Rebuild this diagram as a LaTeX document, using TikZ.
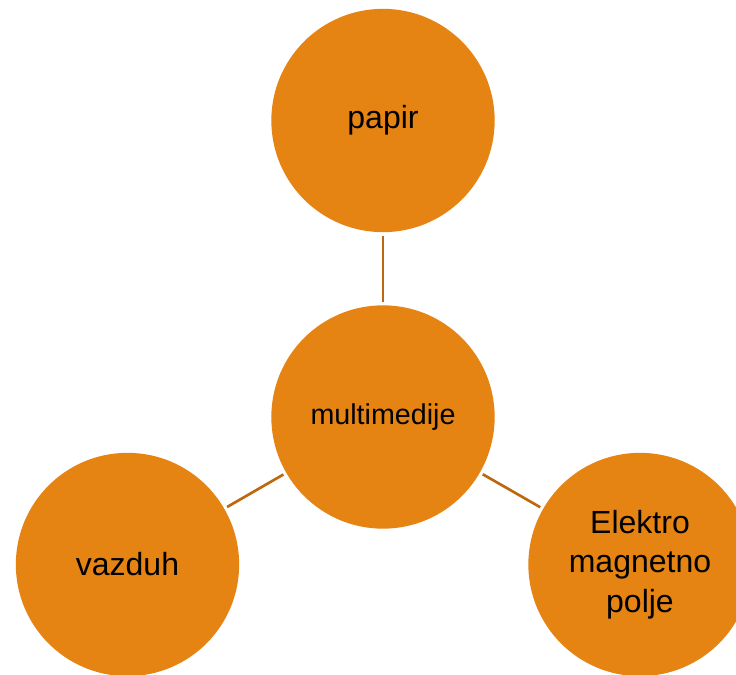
\documentclass[tikz,border=0pt]{standalone}
\usepackage{fontspec}
\setmainfont{Liberation Sans}
\definecolor{discfill}{RGB}{229,131,19}
\definecolor{spoke}{RGB}{188,104,16}

\tikzset{every picture/.style={line width=0.75pt}}
\tikzset{
  disc/.style={circle,fill=discfill,draw=none,inner sep=0pt,outer sep=0pt,minimum size=167.5pt,align=center,font=\fontsize{24}{29.5}\selectfont},
  spokeline/.style={draw=spoke,line width=2pt,shorten <=2.5pt,shorten >=2.5pt}
}

\begin{document}
\begin{tikzpicture}[x=0.75pt,y=0.75pt,yscale=-1,xscale=1]
\useasboundingbox (0,0) rectangle (736,675); %diagram of 736 x 675

% Circles
\node [disc] (papir) at (383,120.5) {papir};
\node [disc,font=\fontsize{21.5}{26}\selectfont] (multi) at (383,417) {multimedije};
\node [disc] (vazduh) at (127.5,564.5) {vazduh};
\node [disc] (polje) at (640,564.5) {Elektro\\magnetno\\polje};

%Straight Lines
\draw [spokeline] (multi) -- (papir);
\draw [spokeline] (multi) -- (vazduh);
\draw [spokeline] (multi) -- (polje);

\end{tikzpicture}
\end{document}
